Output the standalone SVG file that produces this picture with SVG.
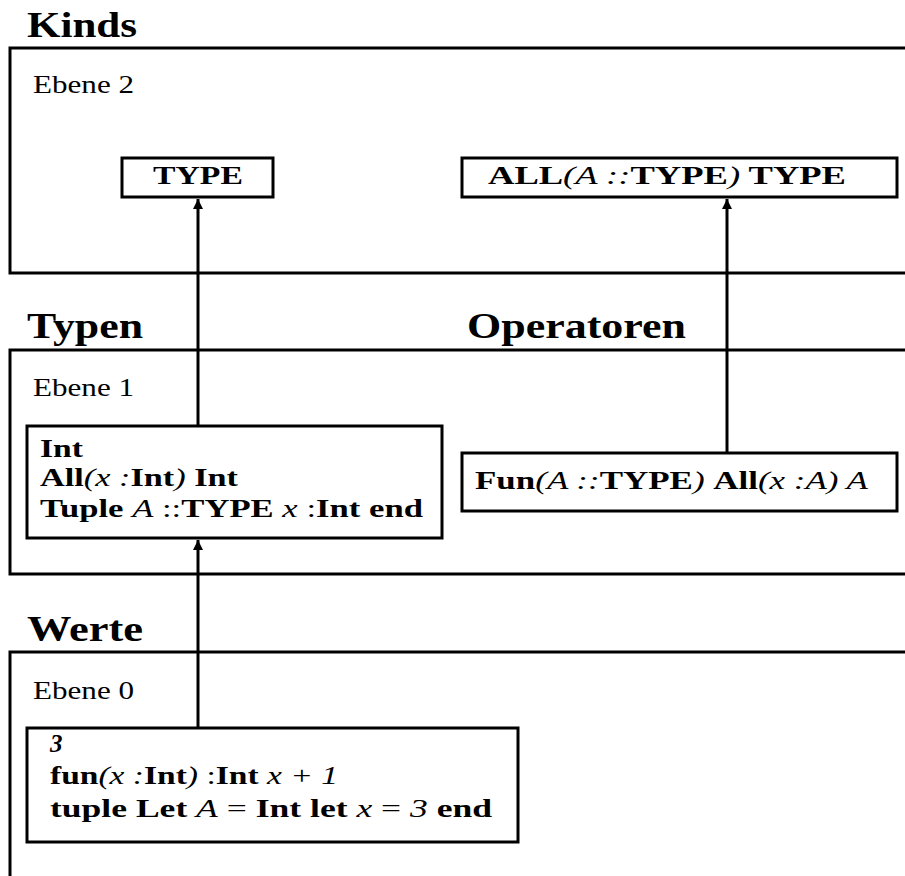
<svg xmlns="http://www.w3.org/2000/svg" width="905" height="876" viewBox="0 0 905 876">
<defs>
<style>
.panel{fill:none;stroke:#000;stroke-width:3}
.box{fill:#fff;stroke:#000;stroke-width:3}
.title{font-family:"Liberation Serif",serif;font-weight:bold;font-size:35px;fill:#000}
.ebene{font-family:"Liberation Serif",serif;font-size:26px;fill:#000}
.t{font-family:"Liberation Serif",serif;font-size:25px;fill:#000}
.b{font-weight:bold}
.i{font-style:italic}
.conn{stroke:#000;stroke-width:3;fill:none}
</style>
<marker id="ah" viewBox="0 0 10 14" refX="10" refY="7" markerWidth="10" markerHeight="14" markerUnits="userSpaceOnUse" orient="auto">
<path d="M0,2 L10,7 L0,12 z" fill="#000"/>
</marker>
</defs>
<rect width="905" height="876" fill="#fff"/>

<g id="panel-kinds">
<text class="title" x="27" y="37" textLength="110" lengthAdjust="spacingAndGlyphs">Kinds</text>
<path class="panel" d="M905,48 H10 V273 H905"/>
<text class="ebene" x="33" y="93" textLength="101" lengthAdjust="spacingAndGlyphs">Ebene 2</text>
</g>
<g id="panel-typen">
<text class="title" x="27" y="338" textLength="116" lengthAdjust="spacingAndGlyphs">Typen</text>
<text class="title" x="467" y="338" textLength="219" lengthAdjust="spacingAndGlyphs">Operatoren</text>
<path class="panel" d="M905,350 H10 V574 H905"/>
<text class="ebene" x="33" y="396" textLength="101" lengthAdjust="spacingAndGlyphs">Ebene 1</text>
</g>
<g id="panel-werte">
<text class="title" x="27" y="641" textLength="116" lengthAdjust="spacingAndGlyphs">Werte</text>
<path class="panel" d="M905,652 H10 V876"/>
<text class="ebene" x="33" y="699" textLength="101" lengthAdjust="spacingAndGlyphs">Ebene 0</text>
</g>

<g id="connectors">
<line class="conn" x1="198" y1="426" x2="198" y2="199" marker-end="url(#ah)"/>
<line class="conn" x1="727" y1="452" x2="727" y2="199" marker-end="url(#ah)"/>
<line class="conn" x1="198" y1="728" x2="198" y2="540" marker-end="url(#ah)"/>
</g>

<g id="node-type">
<rect class="box" x="122" y="158" width="151" height="39"/>
<text class="t b" x="153" y="184" textLength="90" lengthAdjust="spacingAndGlyphs">TYPE</text>
</g>
<g id="node-all">
<rect class="box" x="462" y="158" width="435" height="39"/>
<text class="t" x="488" y="184" textLength="358" lengthAdjust="spacingAndGlyphs"><tspan class="b">ALL</tspan><tspan class="i">(A ::</tspan><tspan class="b">TYPE</tspan><tspan class="i">)</tspan><tspan class="b"> TYPE</tspan></text>
</g>
<g id="node-typen">
<rect class="box" x="27" y="426" width="415" height="112"/>
<text class="t b" x="40" y="457" textLength="43" lengthAdjust="spacingAndGlyphs">Int</text>
<text class="t" x="40" y="486" textLength="198" lengthAdjust="spacingAndGlyphs"><tspan class="b">All</tspan><tspan class="i">(x :</tspan><tspan class="b">Int</tspan><tspan class="i">)</tspan><tspan class="b"> Int</tspan></text>
<text class="t" x="40" y="517" textLength="383" lengthAdjust="spacingAndGlyphs"><tspan class="b">Tuple </tspan><tspan class="i">A</tspan><tspan> ::</tspan><tspan class="b">TYPE </tspan><tspan class="i">x </tspan><tspan>:</tspan><tspan class="b">Int end</tspan></text>
</g>
<g id="node-operatoren">
<rect class="box" x="462" y="453" width="435" height="58"/>
<text class="t" x="475" y="489" textLength="393" lengthAdjust="spacingAndGlyphs"><tspan class="b">Fun</tspan><tspan class="i">(A ::</tspan><tspan class="b">TYPE</tspan><tspan class="i">) </tspan><tspan class="b">All</tspan><tspan class="i">(x :A) A</tspan></text>
</g>
<g id="node-werte">
<rect class="box" x="27" y="728" width="491" height="114"/>
<text class="t i b" x="50" y="752">3</text>
<text class="t" x="50" y="784" textLength="288" lengthAdjust="spacingAndGlyphs"><tspan class="b">fun</tspan><tspan class="i">(x :</tspan><tspan class="b">Int</tspan><tspan class="i">)</tspan><tspan> :</tspan><tspan class="b">Int </tspan><tspan class="i">x + 1</tspan></text>
<text class="t" x="50" y="817" textLength="442" lengthAdjust="spacingAndGlyphs"><tspan class="b">tuple Let </tspan><tspan class="i">A</tspan><tspan> = </tspan><tspan class="b">Int let </tspan><tspan class="i">x</tspan><tspan> = </tspan><tspan class="i">3 </tspan><tspan class="b">end</tspan></text>
</g>
</svg>
